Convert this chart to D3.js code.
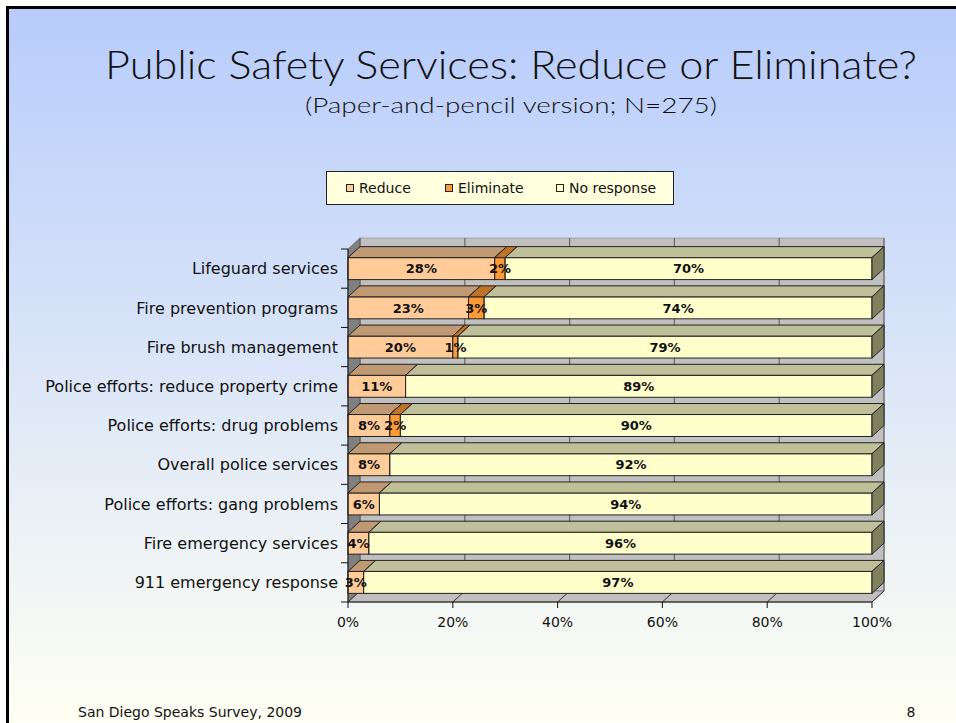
<!DOCTYPE html>
<html><head><meta charset="utf-8">
<script src="https://cdn.jsdelivr.net/npm/d3@7"></script>
<style>html,body{margin:0;padding:0;background:#fff}svg{display:block}</style>
</head><body>
<svg id="chart" width="956" height="723"></svg>
<script>
// ---- data ----
const categories = [
  "Lifeguard services",
  "Fire prevention programs",
  "Fire brush management",
  "Police efforts: reduce property crime",
  "Police efforts: drug problems",
  "Overall police services",
  "Police efforts: gang problems",
  "Fire emergency services",
  "911 emergency response"
];
const seriesNames = ["Reduce", "Eliminate", "No response"];
const reduceValues     = [28, 23, 20, 11, 8, 8, 6, 4, 3];
const eliminateValues  = [2, 3, 1, 0, 2, 0, 0, 0, 0];
const noResponseValues = [70, 74, 79, 89, 90, 92, 94, 96, 97];
const tickValues = [0, 20, 40, 60, 80, 100];
const tickLabels = ["0%", "20%", "40%", "60%", "80%", "100%"];
const titleText = "Public Safety Services: Reduce or Eliminate?";
const subtitleText = "(Paper-and-pencil version; N=275)";
const footerText = "San Diego Speaks Survey, 2009";
const pageNumber = "8";

// ---- styles ----
const frontColors = ["#ffcc99", "#ff9933", "#ffffcc"];
const topColors   = ["#bf9973", "#bf7326", "#bfbf99"];
const sideColors  = ["#9f7f5f", "#9f5f1f", "#80805f"];

const svg = d3.select("#chart");
const W = 956, H = 723;

// background
const defs = svg.append("defs");
const grad = defs.append("linearGradient").attr("id", "bg").attr("x1", 0).attr("y1", 0).attr("x2", 0).attr("y2", 1);
grad.append("stop").attr("offset", "0%").attr("stop-color", "#b7ccfc");
grad.append("stop").attr("offset", "100%").attr("stop-color", "#fffff3");
svg.append("rect").attr("x", 0).attr("y", 0).attr("width", W).attr("height", H).attr("fill", "#fff");
svg.append("rect").attr("x", 6).attr("y", 6).attr("width", W - 6).attr("height", H - 6).attr("fill", "url(#bg)");
svg.append("rect").attr("x", 6).attr("y", 6).attr("width", W - 6).attr("height", 3).attr("fill", "#000");
svg.append("rect").attr("x", 6).attr("y", 6).attr("width", 3).attr("height", H - 6).attr("fill", "#000");

// titles
svg.append("text").attr("x", 511).attr("y", 79).attr("text-anchor", "middle")
  .attr("font-family", "Lato, 'Liberation Sans Narrow', sans-serif").attr("font-weight", 300)
  .attr("font-size", 40).attr("fill", "#111")
  .attr("textLength", 812).attr("lengthAdjust", "spacingAndGlyphs").text(titleText);
svg.append("text").attr("x", 511).attr("y", 113).attr("text-anchor", "middle")
  .attr("font-family", "Lato, sans-serif").attr("font-weight", 300)
  .attr("font-size", 22).attr("fill", "#111")
  .attr("textLength", 412).attr("lengthAdjust", "spacingAndGlyphs").text(subtitleText);

// scales
const x = d3.scaleLinear().domain([0, 100]).range([348, 872]);
const y = d3.scaleBand().domain(categories).range([249, 602]).paddingInner(0.44).paddingOuter(0.22);
const step = y.step();
const dx = 12, dy = 11;
const plotTop = 249, plotBottom = 602;

const g = svg.append("g");

// back wall
g.append("rect").attr("x", x(0) + dx).attr("y", plotTop - dy)
  .attr("width", x(100) - x(0)).attr("height", plotBottom - plotTop)
  .attr("fill", "#c0c0c0").attr("stroke", "#8a8a8a").attr("stroke-width", 0.6);
// left wall
g.append("path").attr("d", `M${x(0)},${plotBottom}L${x(0)},${plotTop}L${x(0)+dx},${plotTop-dy}L${x(0)+dx},${plotBottom-dy}Z`)
  .attr("fill", "#808080").attr("stroke", "#555").attr("stroke-width", 0.6);
// floor
g.append("path").attr("d", `M${x(0)},${plotBottom}L${x(100)},${plotBottom}L${x(100)+dx},${plotBottom-dy}L${x(0)+dx},${plotBottom-dy}Z`)
  .attr("fill", "#c0c0c0").attr("stroke", "#555").attr("stroke-width", 0.6);
// grid lines on back wall
g.selectAll(".grid").data(tickValues).join("line")
  .attr("x1", d => x(d) + dx).attr("x2", d => x(d) + dx)
  .attr("y1", plotTop - dy).attr("y2", plotBottom - dy)
  .attr("stroke", "#666").attr("stroke-width", 1.2);
// floor diagonals
g.selectAll(".fdiag").data(tickValues).join("line")
  .attr("x1", d => x(d)).attr("x2", d => x(d) + dx)
  .attr("y1", plotBottom).attr("y2", plotBottom - dy)
  .attr("stroke", "#333").attr("stroke-width", 1);

// bars
const seriesValues = [reduceValues, eliminateValues, noResponseValues];
categories.forEach((cat, i) => {
  let cum = 0;
  const yt = y(cat), bh = y.bandwidth(), yb = yt + bh;
  const row = g.append("g");
  seriesValues.forEach((vals, s) => {
    const v = vals[i];
    const x0 = x(cum), x1 = x(cum + v);
    cum += v;
    if (v <= 0) return;
    row.append("rect").attr("x", x0).attr("y", yt).attr("width", x1 - x0).attr("height", bh)
      .attr("fill", frontColors[s]).attr("stroke", "#222").attr("stroke-width", 1);
    row.append("path").attr("d", `M${x0},${yt}L${x1},${yt}L${x1+dx},${yt-dy}L${x0+dx},${yt-dy}Z`)
      .attr("fill", topColors[s]).attr("stroke", "#222").attr("stroke-width", 1);
    row.append("path").attr("d", `M${x1},${yt}L${x1+dx},${yt-dy}L${x1+dx},${yb-dy}L${x1},${yb}Z`)
      .attr("fill", sideColors[s]).attr("stroke", "#222").attr("stroke-width", 1);
  });
});
// value labels
categories.forEach((cat, i) => {
  let cum = 0;
  const yc = y(cat) + y.bandwidth() / 2;
  seriesValues.forEach((vals, s) => {
    const v = vals[i];
    const x0 = x(cum), x1 = x(cum + v);
    cum += v;
    if (v <= 0) return;
    g.append("text").attr("x", (x0 + x1) / 2).attr("y", yc).attr("dy", "0.36em")
      .attr("text-anchor", "middle").attr("font-family", "'DejaVu Sans', sans-serif")
      .attr("font-weight", "bold").attr("font-size", 13).attr("fill", "#111")
      .text(v + "%");
  });
});

// category axis
const axisG = svg.append("g");
axisG.append("line").attr("x1", x(0)).attr("x2", x(0)).attr("y1", plotTop).attr("y2", plotBottom)
  .attr("stroke", "#111").attr("stroke-width", 1);
d3.range(categories.length + 1).forEach(k => {
  axisG.append("line").attr("x1", x(0) - 7).attr("x2", x(0))
    .attr("y1", plotTop + k * step).attr("y2", plotTop + k * step)
    .attr("stroke", "#111").attr("stroke-width", 1);
});
axisG.selectAll(".cat").data(categories).join("text")
  .attr("x", 338).attr("y", d => y(d) + y.bandwidth() / 2).attr("dy", "0.36em")
  .attr("text-anchor", "end").attr("font-family", "'DejaVu Sans', sans-serif")
  .attr("font-size", 16).attr("fill", "#111").text(d => d);

// value axis
axisG.append("line").attr("x1", x(0)).attr("x2", x(100)).attr("y1", plotBottom).attr("y2", plotBottom)
  .attr("stroke", "#111").attr("stroke-width", 1);
axisG.selectAll(".vt").data(tickValues).join("line")
  .attr("x1", d => x(d)).attr("x2", d => x(d)).attr("y1", plotBottom).attr("y2", plotBottom + 6)
  .attr("stroke", "#111").attr("stroke-width", 1);
axisG.selectAll(".vl").data(tickValues).join("text")
  .attr("x", d => x(d)).attr("y", 627).attr("text-anchor", "middle")
  .attr("font-family", "'DejaVu Sans', sans-serif").attr("font-size", 14).attr("fill", "#111")
  .text((d, i) => tickLabels[i]);

// legend
const lg = svg.append("g");
lg.append("rect").attr("x", 326.5).attr("y", 171.5).attr("width", 347).attr("height", 33)
  .attr("fill", "#ffffdd").attr("stroke", "#222").attr("stroke-width", 1);
const legendX = [346, 445, 556];
seriesNames.forEach((name, s) => {
  lg.append("rect").attr("x", legendX[s] + 0.5).attr("y", 184.5).attr("width", 7).attr("height", 7)
    .attr("fill", frontColors[s]).attr("stroke", "#222").attr("stroke-width", 1);
  lg.append("text").attr("x", legendX[s] + 13).attr("y", 193)
    .attr("font-family", "'DejaVu Sans', sans-serif").attr("font-size", 14).attr("fill", "#111")
    .text(name);
});

// footer
svg.append("text").attr("x", 78).attr("y", 717).attr("font-family", "'DejaVu Sans', sans-serif")
  .attr("font-size", 14).attr("fill", "#111").text(footerText);
svg.append("text").attr("x", 911).attr("y", 717).attr("text-anchor", "middle").attr("font-family", "'DejaVu Sans', sans-serif")
  .attr("font-size", 14).attr("fill", "#111").text(pageNumber);
</script>
</body></html>
